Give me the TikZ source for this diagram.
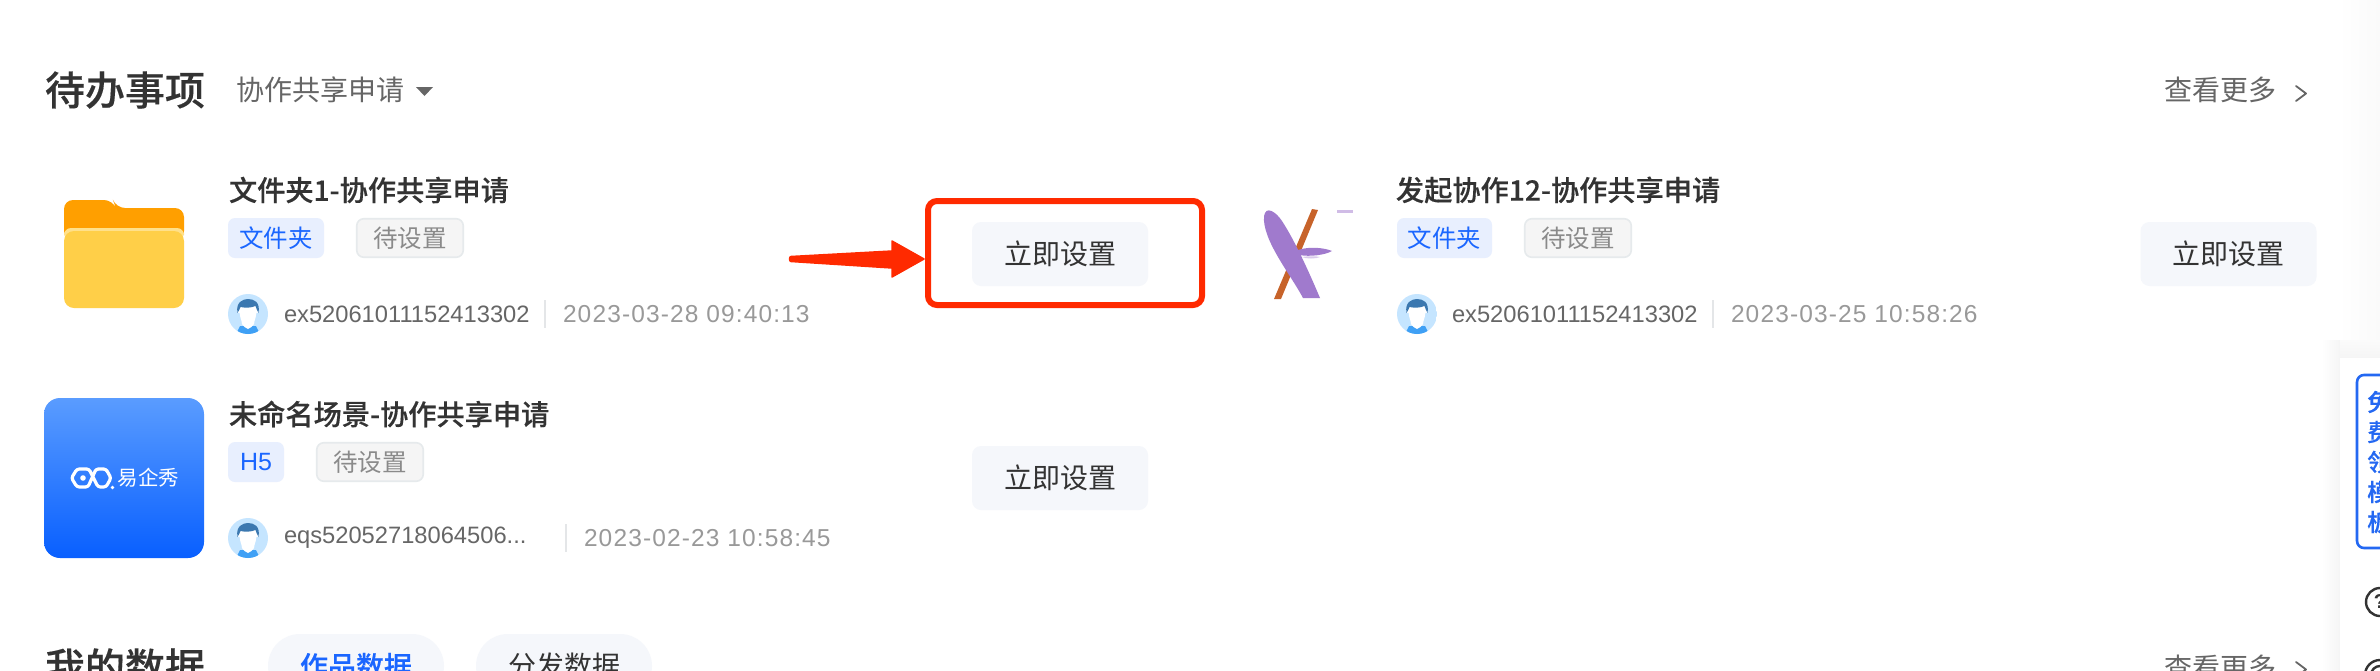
\documentclass[tikz,border=0pt]{standalone}
\usepackage{fontspec}
\usetikzlibrary{calc}
\newfontfamily\cjk{Noto Sans CJK SC}
\newfontfamily\cjkm[FakeBold=0.35]{Noto Sans CJK SC Medium}
\newfontfamily\lat{Liberation Sans}
\newfontfamily\latdate[LetterSpace=4.6]{Liberation Sans}
\newcommand{\fz}[1]{\fontsize{#1}{#1}\selectfont}
\definecolor{ink}{HTML}{333333}
\definecolor{midgrey}{HTML}{666666}
\definecolor{softgrey}{HTML}{999999}
\definecolor{tagblue}{HTML}{1A66FF}
\definecolor{tagbluebg}{HTML}{E8EFFE}
\definecolor{tagbg}{HTML}{F5F5F5}
\definecolor{tagline}{HTML}{E6EAEC}
\definecolor{btnbg}{HTML}{F5F7FB}
\definecolor{alert}{HTML}{FF2A00}
\definecolor{sep}{HTML}{E4E6E8}
\definecolor{hairblue}{HTML}{3B78B0}
\definecolor{avatarbg}{HTML}{C5E5FF}
\definecolor{collar}{HTML}{3FA0F5}
\definecolor{leaf}{HTML}{A07ACD}
\definecolor{stalk}{HTML}{C7632A}
\definecolor{folderback}{HTML}{FF9F00}
\definecolor{folderfront}{HTML}{FFCF48}
\definecolor{folderlip}{HTML}{FFE08A}
\definecolor{gradtop}{HTML}{5A9CFF}
\definecolor{gradbot}{HTML}{085FFF}
\definecolor{panelblue}{HTML}{2468F2}
\tikzset{
  x=1pt,y=-1pt,
  txt/.style={inner sep=0pt,outer sep=0pt,anchor=west},
  heading/.style={txt,text=ink,font=\cjkm\fz{40}},
  cardtitle/.style={txt,text=ink,font=\cjkm\fz{28.2}},
  subhead/.style={txt,text=midgrey,font=\cjk\fz{28}},
  idtext/.style={txt,text=midgrey,font=\lat\fz{23.7}},
  datetext/.style={txt,text=softgrey,font=\latdate\fz{24.5}},
  typetag/.style={inner sep=0pt,rounded corners=7pt,fill=tagbluebg,text=tagblue,minimum height=40pt,font=\cjk\fz{24.5}},
  statetag/.style={inner sep=0pt,rounded corners=7pt,fill=tagbg,draw=tagline,line width=1.6pt,text=softgrey!90!black,minimum width=106.5pt,minimum height=38.5pt,font=\cjk\fz{24.5}},
  actionbtn/.style={inner sep=0pt,rounded corners=9pt,fill=btnbg,text=ink,minimum width=176pt,minimum height=64pt,font=\cjk\fz{28}},
  pillbtn/.style={inner sep=0pt,rounded corners=32pt,fill=btnbg,minimum width=176pt,minimum height=64pt,font=\cjk\fz{28}},
  sepline/.style={draw=sep,line width=1.6pt},
  chevron/.style={draw=midgrey,line width=1.8pt,line join=round,line cap=round},
  avatar/.pic={
    \begin{scope}
      \clip (0,0) circle[radius=20];
      \fill[avatarbg] (-20,-20) rectangle (20,20);
      \fill[collar] (-8,12) -- (8,12) -- (12,20) -- (-12,20) -- cycle;
      \fill[white] (-8.5,-8) -- (8.5,-8) .. controls (9,4) and (6,6) .. (6,10) .. controls (4,13) and (2,14) .. (0,15) .. controls (-2,14) and (-4,13) .. (-6,10) .. controls (-6,6) and (-9,4) .. (-8.5,-8) -- cycle;
      \fill[white] (-9,-3) circle[radius=2];
      \fill[white] (9,-3) circle[radius=2];
      \fill[hairblue] (-10.5,-1) .. controls (-12.5,-12) and (-5,-15) .. (0,-15) .. controls (6,-15) and (12.5,-12) .. (10.5,-1) .. controls (9,-3) and (8.5,-6) .. (7.5,-8) .. controls (3,-6) and (-3,-6) .. (-7.5,-7) .. controls (-8.5,-5) and (-9,-3) .. (-10.5,-1) -- cycle;
    \end{scope}
  },
}
\begin{document}
\begin{tikzpicture}
\useasboundingbox (0,0) rectangle (2380,670);
\clip (0,0) rectangle (2380,670);
\fill[white] (0,0) rectangle (2380,670);

% right edge tint, panel shadow and panel
\shade[left color=white,right color=black!2] (2338,0) rectangle (2380,345);
\shade[left color=white,right color=black!4] (2322,340) rectangle (2340,670);
\shade[top color=black!1.5,bottom color=black!4] (2340,340) rectangle (2380,358);
\fill[white] (2340,358) rectangle (2380,670);
\node[draw=panelblue,line width=2.6pt,rounded corners=7pt,minimum width=60pt,minimum height=173pt,inner sep=0pt] (promo) at (2387,461.5) {};
\foreach \ch/\yy/\nm in {免/402/a,费/432/b,领/462/c,模/492/d,板/522/e}
  \node[inner sep=0pt,anchor=west,text=panelblue,font=\cjkm\fz{24}] (promo\nm) at (2367,\yy) {\ch};
\draw[draw=ink,line width=2.4pt] (2380,602) circle[radius=14];
\node[inner sep=0pt,text=ink,font=\lat\bfseries\fz{20}] (helpmark) at (2380,602) {?};
\draw[draw=ink,line width=2.4pt] (2380,675) circle[radius=15];
\draw[draw=ink,line width=2.4pt] (2380,675) circle[radius=9];

% header
\node[heading] (todo) at (45,90) {待办事项};
\node[subhead] (filter) at (236,90) {协作共享申请};
\fill[midgrey] (416,87) -- (433,87) -- (424.5,96) -- cycle;
\node[subhead] (moreA) at (2164,90) {查看更多};
\draw[chevron] (2296,86) -- (2306,93.5) -- (2296,101);

% card 1
\fill[folderback,rounded corners=9pt] (64,240) -- (64,200) -- (113,200) -- (116,208) -- (184,208) -- (184,240) -- cycle;
\fill[folderlip,rounded corners=7pt] (64,240) -- (64,228) -- (184,228) -- (184,240) -- cycle;
\fill[folderfront,rounded corners=10pt] (64,231) -- (184,231) -- (184,308) -- (64,308) -- cycle;
\node[cardtitle] (titleA) at (229,190) {文件夹1-协作共享申请};
\node[typetag,minimum width=96pt] (typeA) at (276,238) {文件夹};
\node[statetag] (stateA) at (410,238) {待设置};
\pic at (248,314) {avatar};
\node[idtext] (idA) at (284,314) {ex52061011152413302};
\draw[sepline] (545,300) -- (545,328);
\node[datetext] (dateA) at (563,314) {2023-03-28 09:40:13};
\node[actionbtn] (btnA) at (1060,254) {立即设置};

% highlight
\node[draw=alert,line width=6pt,rounded corners=9pt,minimum width=274pt,minimum height=104pt,inner sep=0pt] (hl) at (1065,253) {};
\coordinate (arrowtail) at (791,259);
\coordinate (arrowtip) at ($(hl.west)+(-1,6)$);
\filldraw[alert,line width=1.5pt,line join=round] ($(arrowtail)+(0,-2.5)$)
  -- ($(arrowtip)+(-32,-8)$) -- ($(arrowtip)+(-32,-18)$) -- (arrowtip)
  -- ($(arrowtip)+(-32,18)$) -- ($(arrowtip)+(-32,9)$) -- ($(arrowtail)+(0,2.5)$)
  .. controls ($(arrowtail)+(-2,2.5)$) and ($(arrowtail)+(-2,-2.5)$) .. ($(arrowtail)+(0,-2.5)$) -- cycle;

% X thumbnail
\fill[stalk] (1312,209) -- (1318,210) -- (1281,299) -- (1274,299) -- cycle;
\fill[leaf] (1264,216) .. controls (1266,205) and (1276,212) .. (1282,221) .. controls (1295,241) and (1309,272) .. (1320,298) -- (1303,298) .. controls (1291,275) and (1262,240) .. (1264,216) -- cycle;
\fill[leaf] (1298,250) .. controls (1310,246) and (1325,248) .. (1332,251) .. controls (1325,255) and (1310,257) .. (1299,255) -- cycle;
\fill[leaf!40!white] (1302,257) .. controls (1308,256) and (1316,256) .. (1320,257) .. controls (1316,259) and (1306,259) .. (1302,257) -- cycle;
\fill[leaf!50!white] (1337,209.5) -- (1353,209.5) -- (1353,212.5) -- (1337,212.5) -- cycle;

% card 2
\node[cardtitle] (titleB) at (1396,190) {发起协作12-协作共享申请};
\node[typetag,minimum width=95pt] (typeB) at (1444.5,238) {文件夹};
\node[statetag] (stateB) at (1578,238) {待设置};
\pic at (1417,314) {avatar};
\node[idtext] (idB) at (1452,314) {ex52061011152413302};
\draw[sepline] (1713,300) -- (1713,328);
\node[datetext] (dateB) at (1731,314) {2023-03-25 10:58:26};
\node[actionbtn] (btnB) at (2228.5,254) {立即设置};

% card 3
\node[inner sep=0pt,rounded corners=16pt,top color=gradtop,bottom color=gradbot,minimum width=160pt,minimum height=160pt] (thumbC) at (124,478) {};
\draw[white,line width=3.2pt,line join=round,rounded corners=2.5pt] (71.5,478) -- (77,469) -- (89,469) -- (98,487) -- (106,487) -- (111,478) -- (106,469) -- (96,469) -- (88,487) -- (77,487) -- cycle;
\fill[white] (83,478) circle[radius=2.8];
\fill[white] (112.5,487.5) circle[radius=1.8];
\node[inner sep=0pt,anchor=west,text=white,font=\cjk\fz{20.5}] (logotext) at (117.5,478) {易企秀};
\node[cardtitle] (titleC) at (229,414) {未命名场景-协作共享申请};
\node[typetag,minimum width=56pt,font=\lat\fz{25}] (typeC) at (256,462) {H5};
\node[statetag] (stateC) at (370,462) {待设置};
\pic at (248,538) {avatar};
\node[idtext] (idC) at (284,538) {eqs52052718064506...};
\draw[sepline] (566,524) -- (566,552);
\node[datetext] (dateC) at (584,538) {2023-02-23 10:58:45};
\node[actionbtn] (btnC) at (1060,478) {立即设置};

% bottom row
\node[heading] (mydata) at (45,667) {我的数据};
\node[pillbtn,text=tagblue,font=\cjkm\fz{28}] (pillA) at (356,666) {作品数据};
\node[pillbtn,text=ink] (pillB) at (564,666) {分发数据};
\node[subhead] (moreB) at (2164,668) {查看更多};
\draw[chevron] (2296,662) -- (2306,669.5) -- (2296,677);
\end{tikzpicture}
\end{document}
